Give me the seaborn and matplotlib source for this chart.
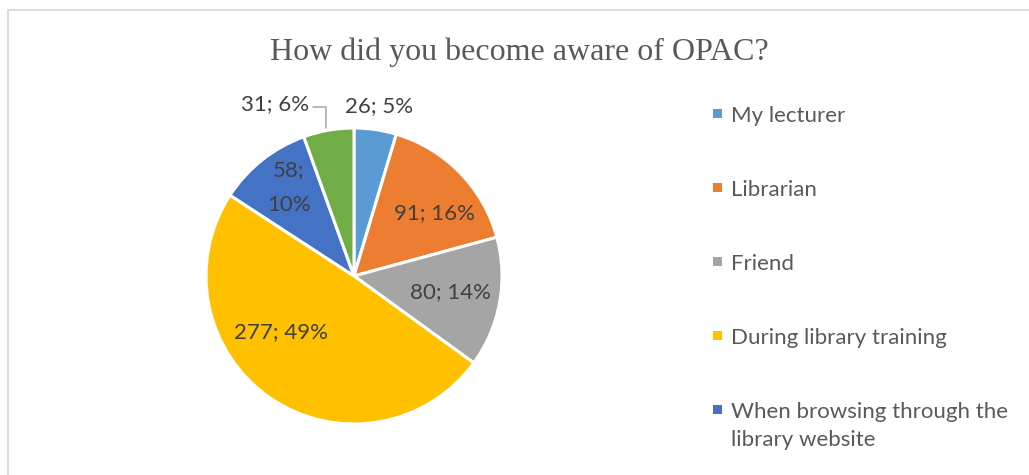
import numpy as np
import matplotlib
matplotlib.use("Agg")
import matplotlib.pyplot as plt
from matplotlib.patches import Rectangle
import seaborn as sns

# Survey responses: how students became aware of the OPAC
categories = ["My lecturer", "Librarian", "Friend", "During library training",
              "When browsing through the\nlibrary website", "Others"]
counts = [26, 91, 80, 277, 58, 31]
percent_labels = ["5%", "16%", "14%", "49%", "10%", "6%"]
title = "How did you become aware of OPAC?"

colors = ["#5B9BD5", "#ED7D31", "#A5A5A5", "#FFC000", "#4472C4", "#70AD47"]

sns.set_theme(style="white")
plt.rcParams["font.family"] = ["Lato", "DejaVu Sans"]

W, H = 1029, 475
fig = plt.figure(figsize=(W / 100, H / 100), dpi=100)

# light chart-area frame
fig.patches.append(Rectangle((8 / W, -0.05), 1.2, 1 - 10 / H + 0.05,
                             transform=fig.transFigure, fill=False,
                             edgecolor="#D9D9D9", linewidth=1.3))

# pie axes: centre and radius in pixels
cx, cy, R, half = 354, 276, 148, 200
ax = fig.add_axes([(cx - half) / W, (H - cy - half) / H, 2 * half / W, 2 * half / H])
wedges, _ = ax.pie(counts, colors=colors, startangle=90, counterclock=False,
                   radius=1.0,
                   wedgeprops=dict(edgecolor="white", linewidth=2.2))
lim = half / R
ax.set_xlim(-lim, lim)
ax.set_ylim(-lim, lim)
ax.set_aspect("equal")
ax.axis("off")

# data labels: "value; percent" placed along each wedge's bisector
label_texts = [f"{c}; {p}" for c, p in zip(counts, percent_labels)]
label_texts[4] = f"{counts[4]};\n{percent_labels[4]}"
radial = [1.16, 0.69, 0.66, 0.62, 0.74, 1.22]
angle_shift = [0, -6, 1, -18, -2, 0]
lab_col = "#404040"
FS = 16
for i, (w, txt) in enumerate(zip(wedges, label_texts)):
    mid = np.deg2rad((w.theta1 + w.theta2) / 2 + angle_shift[i])
    x, y = radial[i] * np.cos(mid), radial[i] * np.sin(mid)
    if i == 5:
        # outside label with leader line
        lx, ly = -0.28, 1.16
        ax.text(lx - 0.02, ly, txt, ha="right", va="center", fontsize=FS,
                color=lab_col)
        ax.plot([lx, -0.19, -0.19], [ly - 0.02, ly - 0.02, 1.0],
                color="#A6A6A6", lw=1.1, clip_on=False)
    else:
        ax.text(x, y, txt, ha="center", va="center", fontsize=FS,
                color=lab_col, linespacing=1.95)

fig.text(0.505, 1 - 52 / H, title, ha="center", va="center",
         fontsize=23, color="#595959", family=["Liberation Serif"])

# legend: square swatch beside the first line of each label;
# entries that run past the lower edge of the chart area are not shown
leg_x, leg_y0, leg_step, sq, line_h = 713, 113, 74, 9, 28
extra = 0
for i, (lab, col) in enumerate(zip(categories, colors)):
    yc = leg_y0 + leg_step * i + extra
    if yc + 10 > H:
        break
    n_extra = lab.count("\n")
    fig.patches.append(Rectangle((leg_x / W, (H - yc - sq / 2) / H), sq / W, sq / H,
                                 transform=fig.transFigure, facecolor=col,
                                 edgecolor="none"))
    fig.text((leg_x + 18) / W, (H - yc - 8.5 - line_h * n_extra) / H, lab,
             ha="left", va="baseline", fontsize=FS, color="#595959",
             linespacing=1.47)
    extra += line_h * n_extra

fig.savefig("out.png", dpi=100)
